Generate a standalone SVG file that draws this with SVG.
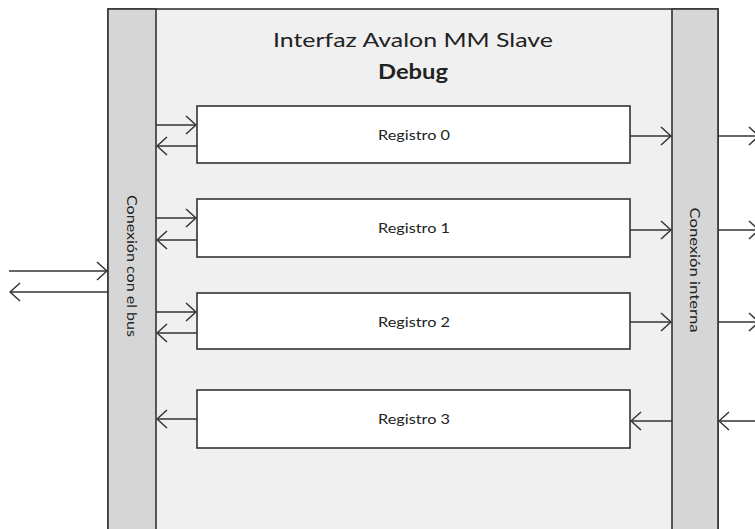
<svg xmlns="http://www.w3.org/2000/svg" width="755" height="529" viewBox="0 0 755 529">
  <defs>
    <marker id="open" viewBox="0 0 12 20" refX="11" refY="10" markerWidth="12" markerHeight="20" markerUnits="userSpaceOnUse" orient="auto">
      <path d="M1,1 L11,10 L1,19" fill="none" stroke="#333" stroke-width="1.5"/>
    </marker>
  </defs>
  <style>
    .bar { fill: #d6d6d6; stroke: #333; stroke-width: 1.6; }
    .panel { fill: #f0f0f0; stroke: #333; stroke-width: 1.6; }
    .reg { fill: #ffffff; stroke: #333; stroke-width: 1.6; }
    .wire { fill: none; stroke: #333; stroke-width: 1.5; marker-end: url(#open); }
    .lbl { font-family: Lato, "Open Sans", "Liberation Sans", sans-serif; fill: #222; }
    .reglbl { font-size: 13px; }
  </style>
  <rect width="755" height="529" fill="#ffffff"/>

  <!-- enclosing block -->
  <g id="block">
    <rect class="panel" x="108" y="9" width="610" height="530"/>
    <text class="lbl" x="413" y="47" font-size="20" text-anchor="middle" textLength="280" lengthAdjust="spacingAndGlyphs">Interfaz Avalon MM Slave</text>
    <text class="lbl" x="413" y="79" font-size="20" font-weight="bold" text-anchor="middle" textLength="70" lengthAdjust="spacingAndGlyphs">Debug</text>
  </g>

  <g id="bus-connection">
    <rect class="bar" x="108" y="9" width="48" height="530"/>
    <text class="lbl" transform="translate(127 266) rotate(90)" font-size="14" text-anchor="middle" textLength="142" lengthAdjust="spacingAndGlyphs">Conexión con el bus</text>
  </g>

  <g id="internal-connection">
    <rect class="bar" x="672" y="9" width="46" height="530"/>
    <text class="lbl" transform="translate(690 270) rotate(90)" font-size="14" text-anchor="middle" textLength="125" lengthAdjust="spacingAndGlyphs">Conexión interna</text>
  </g>

  <g id="reg0">
    <rect class="reg" x="197" y="106" width="433" height="57"/>
    <text class="lbl reglbl" x="414" y="140" text-anchor="middle" textLength="72" lengthAdjust="spacingAndGlyphs">Registro 0</text>
  </g>
  <g id="reg1">
    <rect class="reg" x="197" y="199" width="433" height="58"/>
    <text class="lbl reglbl" x="414" y="233" text-anchor="middle" textLength="72" lengthAdjust="spacingAndGlyphs">Registro 1</text>
  </g>
  <g id="reg2">
    <rect class="reg" x="197" y="293" width="433" height="56"/>
    <text class="lbl reglbl" x="414" y="327" text-anchor="middle" textLength="72" lengthAdjust="spacingAndGlyphs">Registro 2</text>
  </g>
  <g id="reg3">
    <rect class="reg" x="197" y="390" width="433" height="58"/>
    <text class="lbl reglbl" x="414" y="424" text-anchor="middle" textLength="72" lengthAdjust="spacingAndGlyphs">Registro 3</text>
  </g>

  <g id="connectors">
    <!-- external bus -->
    <path class="wire" d="M9,271 H107"/>
    <path class="wire" d="M108,292 H10"/>
    <!-- bus side to registers -->
    <path class="wire" d="M156,125 H196"/>
    <path class="wire" d="M197,146 H157"/>
    <path class="wire" d="M156,218 H196"/>
    <path class="wire" d="M197,240 H157"/>
    <path class="wire" d="M156,312 H196"/>
    <path class="wire" d="M197,333 H157"/>
    <path class="wire" d="M197,419 H157"/>
    <!-- registers to internal side -->
    <path class="wire" d="M630,136 H671"/>
    <path class="wire" d="M630,230 H671"/>
    <path class="wire" d="M630,322 H671"/>
    <path class="wire" d="M672,421 H631"/>
    <!-- internal outputs -->
    <path class="wire" d="M718,136 H759"/>
    <path class="wire" d="M718,230 H759"/>
    <path class="wire" d="M718,322 H759"/>
    <path class="wire" d="M760,421 H719"/>
  </g>
</svg>
